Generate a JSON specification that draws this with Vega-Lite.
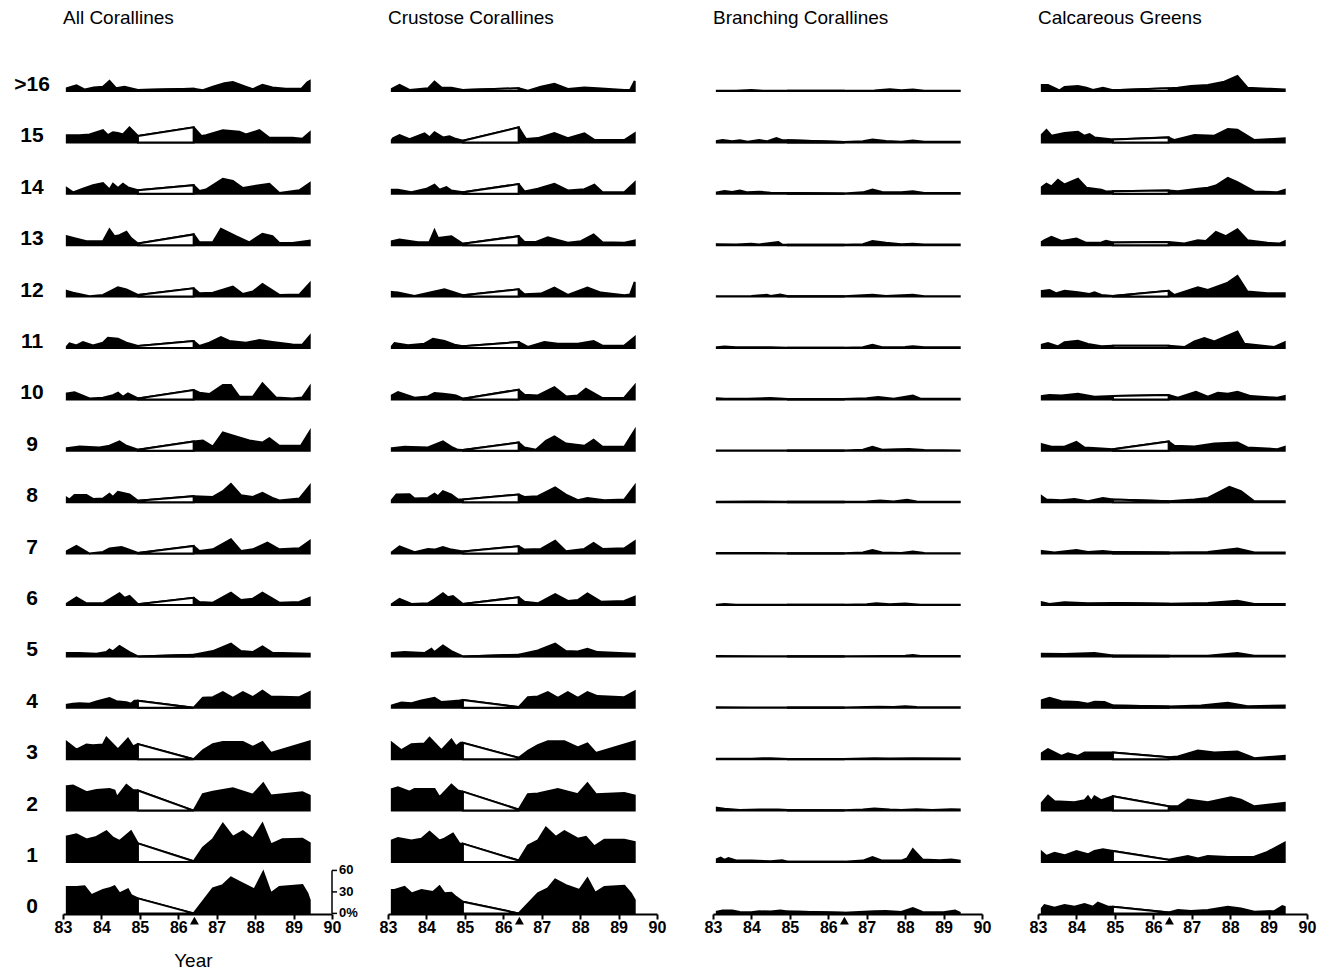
{
  "$schema": "https://vega.github.io/schema/vega-lite/v6.json",
  "background": "white",
  "padding": {"left": 14, "top": 9, "right": 2, "bottom": 2},
  "config": {
    "view": {"stroke": null},
    "font": "Liberation Sans",
    "axisX": {"values": [83, 84, 85, 86, 87, 88, 89, 90], "format": "d", "labelFontSize": 16, "labelFontWeight": "bold", "labelColor": "black", "labelPadding": 0, "tickSize": 5, "tickWidth": 2, "tickColor": "black", "domainWidth": 2, "domainColor": "black", "grid": false, "labelFlush": false, "labelOverlap": false, "title": null}
  },
  "title": {"text": "Year", "orient": "bottom", "anchor": "start", "frame": "bounds", "dx": 160, "offset": 17, "fontSize": 19, "fontWeight": "normal", "color": "black", "font": "Liberation Sans"},
  "data": {"values": [
    {"g":"A","s":">16","k":"lab"},{"g":"A","s":"15","k":"lab"},{"g":"A","s":"14","k":"lab"},{"g":"A","s":"13","k":"lab"},{"g":"A","s":"12","k":"lab"},{"g":"A","s":"11","k":"lab"},{"g":"A","s":"10","k":"lab"},{"g":"A","s":"9","k":"lab"},{"g":"A","s":"8","k":"lab"},{"g":"A","s":"7","k":"lab"},{"g":"A","s":"6","k":"lab"},{"g":"A","s":"5","k":"lab"},{"g":"A","s":"4","k":"lab"},{"g":"A","s":"3","k":"lab"},{"g":"A","s":"2","k":"lab"},{"g":"A","s":"1","k":"lab"},{"g":"A","s":"0","k":"lab"},
    {"g":"A","s":">16","x":83.1,"y":4},{"g":"A","s":">16","x":83.35,"y":8},{"g":"A","s":">16","x":83.57,"y":2},{"g":"A","s":">16","x":83.8,"y":5},{"g":"A","s":">16","x":84.04,"y":6},{"g":"A","s":">16","x":84.21,"y":14},{"g":"A","s":">16","x":84.38,"y":4},{"g":"A","s":">16","x":84.6,"y":6},{"g":"A","s":">16","x":84.95,"y":1.5},{"g":"A","s":">16","x":86.4,"y":3},{"g":"A","s":">16","x":86.64,"y":1},{"g":"A","s":">16","x":86.9,"y":6},{"g":"A","s":">16","x":87.2,"y":11},{"g":"A","s":">16","x":87.42,"y":12.5},{"g":"A","s":">16","x":87.75,"y":6},{"g":"A","s":">16","x":87.94,"y":2.5},{"g":"A","s":">16","x":88.19,"y":8.5},{"g":"A","s":">16","x":88.45,"y":5},{"g":"A","s":">16","x":88.8,"y":3},{"g":"A","s":">16","x":89.2,"y":3},{"g":"A","s":">16","x":89.36,"y":12},{"g":"A","s":">16","x":89.42,"y":14},
    {"g":"A","s":"15","x":83.1,"y":10},{"g":"A","s":"15","x":83.43,"y":10},{"g":"A","s":"15","x":83.69,"y":11},{"g":"A","s":"15","x":84.04,"y":17},{"g":"A","s":"15","x":84.17,"y":10},{"g":"A","s":"15","x":84.3,"y":14},{"g":"A","s":"15","x":84.43,"y":13},{"g":"A","s":"15","x":84.56,"y":11},{"g":"A","s":"15","x":84.73,"y":21},{"g":"A","s":"15","x":84.95,"y":9},{"g":"A","s":"15","x":86.4,"y":21},{"g":"A","s":"15","x":86.6,"y":9},{"g":"A","s":"15","x":86.72,"y":10},{"g":"A","s":"15","x":87.16,"y":17},{"g":"A","s":"15","x":87.59,"y":15},{"g":"A","s":"15","x":87.76,"y":11},{"g":"A","s":"15","x":88.11,"y":17},{"g":"A","s":"15","x":88.37,"y":6.5},{"g":"A","s":"15","x":88.97,"y":6.5},{"g":"A","s":"15","x":89.23,"y":5},{"g":"A","s":"15","x":89.42,"y":14},
    {"g":"A","s":"14","x":83.1,"y":8},{"g":"A","s":"14","x":83.26,"y":2},{"g":"A","s":"14","x":83.52,"y":7},{"g":"A","s":"14","x":83.78,"y":12},{"g":"A","s":"14","x":84.04,"y":15},{"g":"A","s":"14","x":84.21,"y":6},{"g":"A","s":"14","x":84.3,"y":14},{"g":"A","s":"14","x":84.43,"y":8},{"g":"A","s":"14","x":84.56,"y":14},{"g":"A","s":"14","x":84.69,"y":9},{"g":"A","s":"14","x":84.95,"y":5},{"g":"A","s":"14","x":86.4,"y":12},{"g":"A","s":"14","x":86.55,"y":4},{"g":"A","s":"14","x":86.72,"y":6},{"g":"A","s":"14","x":87.16,"y":21},{"g":"A","s":"14","x":87.42,"y":18},{"g":"A","s":"14","x":87.68,"y":8},{"g":"A","s":"14","x":88.11,"y":12},{"g":"A","s":"14","x":88.37,"y":14},{"g":"A","s":"14","x":88.63,"y":1},{"g":"A","s":"14","x":89.15,"y":5},{"g":"A","s":"14","x":89.42,"y":15},
    {"g":"A","s":"13","x":83.1,"y":12.5},{"g":"A","s":"13","x":83.35,"y":9},{"g":"A","s":"13","x":83.61,"y":5.5},{"g":"A","s":"13","x":84.04,"y":5.5},{"g":"A","s":"13","x":84.21,"y":22},{"g":"A","s":"13","x":84.34,"y":12.5},{"g":"A","s":"13","x":84.47,"y":14},{"g":"A","s":"13","x":84.65,"y":18.6},{"g":"A","s":"13","x":84.77,"y":10},{"g":"A","s":"13","x":84.95,"y":2.3},{"g":"A","s":"13","x":86.4,"y":15},{"g":"A","s":"13","x":86.55,"y":4},{"g":"A","s":"13","x":86.9,"y":4},{"g":"A","s":"13","x":87.11,"y":23},{"g":"A","s":"13","x":87.5,"y":12.5},{"g":"A","s":"13","x":87.85,"y":4},{"g":"A","s":"13","x":88.19,"y":16},{"g":"A","s":"13","x":88.45,"y":12.5},{"g":"A","s":"13","x":88.63,"y":3},{"g":"A","s":"13","x":88.97,"y":3},{"g":"A","s":"13","x":89.42,"y":6.5},
    {"g":"A","s":"12","x":83.1,"y":8},{"g":"A","s":"12","x":83.26,"y":5.5},{"g":"A","s":"12","x":83.69,"y":0.5},{"g":"A","s":"12","x":84.04,"y":2.3},{"g":"A","s":"12","x":84.21,"y":7},{"g":"A","s":"12","x":84.43,"y":13},{"g":"A","s":"12","x":84.65,"y":10},{"g":"A","s":"12","x":84.95,"y":2.3},{"g":"A","s":"12","x":86.4,"y":11.6},{"g":"A","s":"12","x":86.55,"y":4.6},{"g":"A","s":"12","x":86.9,"y":5.5},{"g":"A","s":"12","x":87.42,"y":14},{"g":"A","s":"12","x":87.68,"y":3.7},{"g":"A","s":"12","x":87.94,"y":7},{"g":"A","s":"12","x":88.19,"y":17.7},{"g":"A","s":"12","x":88.63,"y":2.3},{"g":"A","s":"12","x":89.15,"y":2.8},{"g":"A","s":"12","x":89.42,"y":18.6},
    {"g":"A","s":"11","x":83.1,"y":2},{"g":"A","s":"11","x":83.17,"y":6.5},{"g":"A","s":"11","x":83.35,"y":3.7},{"g":"A","s":"11","x":83.52,"y":8.4},{"g":"A","s":"11","x":83.78,"y":3.7},{"g":"A","s":"11","x":84.04,"y":7.4},{"g":"A","s":"11","x":84.17,"y":14.4},{"g":"A","s":"11","x":84.43,"y":13},{"g":"A","s":"11","x":84.65,"y":7.4},{"g":"A","s":"11","x":84.95,"y":2.8},{"g":"A","s":"11","x":86.4,"y":9.8},{"g":"A","s":"11","x":86.55,"y":2.8},{"g":"A","s":"11","x":86.81,"y":7.4},{"g":"A","s":"11","x":87.11,"y":15.3},{"g":"A","s":"11","x":87.33,"y":9.8},{"g":"A","s":"11","x":87.76,"y":7.4},{"g":"A","s":"11","x":88.11,"y":11},{"g":"A","s":"11","x":88.45,"y":8.4},{"g":"A","s":"11","x":88.97,"y":5},{"g":"A","s":"11","x":89.23,"y":4.6},{"g":"A","s":"11","x":89.42,"y":16.7},
    {"g":"A","s":"10","x":83.1,"y":8.4},{"g":"A","s":"10","x":83.3,"y":9.8},{"g":"A","s":"10","x":83.69,"y":1.4},{"g":"A","s":"10","x":84.04,"y":2.3},{"g":"A","s":"10","x":84.3,"y":6},{"g":"A","s":"10","x":84.43,"y":9.3},{"g":"A","s":"10","x":84.56,"y":3.7},{"g":"A","s":"10","x":84.69,"y":8.4},{"g":"A","s":"10","x":84.95,"y":1.4},{"g":"A","s":"10","x":86.4,"y":13},{"g":"A","s":"10","x":86.55,"y":9.3},{"g":"A","s":"10","x":86.81,"y":7.4},{"g":"A","s":"10","x":87.16,"y":20},{"g":"A","s":"10","x":87.37,"y":20},{"g":"A","s":"10","x":87.59,"y":3.7},{"g":"A","s":"10","x":87.94,"y":3.7},{"g":"A","s":"10","x":88.19,"y":22.3},{"g":"A","s":"10","x":88.54,"y":2.8},{"g":"A","s":"10","x":88.97,"y":1.4},{"g":"A","s":"10","x":89.23,"y":2.8},{"g":"A","s":"10","x":89.42,"y":17.7},
    {"g":"A","s":"9","x":83.1,"y":3.7},{"g":"A","s":"9","x":83.43,"y":6},{"g":"A","s":"9","x":83.95,"y":4.6},{"g":"A","s":"9","x":84.21,"y":7},{"g":"A","s":"9","x":84.47,"y":13},{"g":"A","s":"9","x":84.65,"y":7},{"g":"A","s":"9","x":84.95,"y":1.4},{"g":"A","s":"9","x":86.4,"y":13},{"g":"A","s":"9","x":86.64,"y":14.4},{"g":"A","s":"9","x":86.9,"y":6},{"g":"A","s":"9","x":87.16,"y":25.6},{"g":"A","s":"9","x":87.5,"y":20},{"g":"A","s":"9","x":87.85,"y":14.4},{"g":"A","s":"9","x":88.19,"y":11.6},{"g":"A","s":"9","x":88.37,"y":17.7},{"g":"A","s":"9","x":88.63,"y":7},{"g":"A","s":"9","x":89.19,"y":7},{"g":"A","s":"9","x":89.42,"y":27},
    {"g":"A","s":"8","x":83.1,"y":6},{"g":"A","s":"8","x":83.17,"y":3.7},{"g":"A","s":"8","x":83.3,"y":10},{"g":"A","s":"8","x":83.61,"y":10},{"g":"A","s":"8","x":83.78,"y":4.6},{"g":"A","s":"8","x":84.04,"y":5},{"g":"A","s":"8","x":84.21,"y":11.6},{"g":"A","s":"8","x":84.3,"y":7.4},{"g":"A","s":"8","x":84.43,"y":14.4},{"g":"A","s":"8","x":84.73,"y":10.7},{"g":"A","s":"8","x":84.95,"y":1.9},{"g":"A","s":"8","x":86.4,"y":8.4},{"g":"A","s":"8","x":86.9,"y":7.4},{"g":"A","s":"8","x":87.16,"y":15.3},{"g":"A","s":"8","x":87.37,"y":25.6},{"g":"A","s":"8","x":87.63,"y":9.8},{"g":"A","s":"8","x":87.94,"y":7.4},{"g":"A","s":"8","x":88.19,"y":13},{"g":"A","s":"8","x":88.45,"y":6},{"g":"A","s":"8","x":88.63,"y":2.3},{"g":"A","s":"8","x":89.15,"y":5},{"g":"A","s":"8","x":89.42,"y":23},
    {"g":"A","s":"7","x":83.1,"y":3.3},{"g":"A","s":"7","x":83.35,"y":10.7},{"g":"A","s":"7","x":83.69,"y":0},{"g":"A","s":"7","x":84.04,"y":2.3},{"g":"A","s":"7","x":84.21,"y":7},{"g":"A","s":"7","x":84.52,"y":9.3},{"g":"A","s":"7","x":84.65,"y":7},{"g":"A","s":"7","x":84.95,"y":1},{"g":"A","s":"7","x":86.4,"y":10.7},{"g":"A","s":"7","x":86.55,"y":3.7},{"g":"A","s":"7","x":86.9,"y":6},{"g":"A","s":"7","x":87.37,"y":20},{"g":"A","s":"7","x":87.63,"y":3.7},{"g":"A","s":"7","x":87.94,"y":6},{"g":"A","s":"7","x":88.32,"y":15.3},{"g":"A","s":"7","x":88.63,"y":6},{"g":"A","s":"7","x":89.15,"y":7.4},{"g":"A","s":"7","x":89.42,"y":17.7},
    {"g":"A","s":"6","x":83.1,"y":2},{"g":"A","s":"6","x":83.35,"y":10.7},{"g":"A","s":"6","x":83.61,"y":2.3},{"g":"A","s":"6","x":84.04,"y":2.3},{"g":"A","s":"6","x":84.21,"y":8},{"g":"A","s":"6","x":84.47,"y":16.3},{"g":"A","s":"6","x":84.6,"y":10},{"g":"A","s":"6","x":84.73,"y":12.6},{"g":"A","s":"6","x":84.95,"y":1},{"g":"A","s":"6","x":86.4,"y":10},{"g":"A","s":"6","x":86.55,"y":4.2},{"g":"A","s":"6","x":86.9,"y":3.3},{"g":"A","s":"6","x":87.37,"y":17.2},{"g":"A","s":"6","x":87.63,"y":7},{"g":"A","s":"6","x":87.94,"y":8.8},{"g":"A","s":"6","x":88.19,"y":17.2},{"g":"A","s":"6","x":88.63,"y":3.3},{"g":"A","s":"6","x":89.15,"y":4.2},{"g":"A","s":"6","x":89.42,"y":10},
    {"g":"A","s":"5","x":83.1,"y":4.6},{"g":"A","s":"5","x":83.43,"y":4.6},{"g":"A","s":"5","x":83.87,"y":3.7},{"g":"A","s":"5","x":84.13,"y":6},{"g":"A","s":"5","x":84.21,"y":9.8},{"g":"A","s":"5","x":84.3,"y":7},{"g":"A","s":"5","x":84.47,"y":14.4},{"g":"A","s":"5","x":84.73,"y":6},{"g":"A","s":"5","x":84.95,"y":0},{"g":"A","s":"5","x":86.4,"y":2.3},{"g":"A","s":"5","x":86.9,"y":7.4},{"g":"A","s":"5","x":87.37,"y":17.7},{"g":"A","s":"5","x":87.63,"y":7.4},{"g":"A","s":"5","x":87.94,"y":6},{"g":"A","s":"5","x":88.19,"y":14},{"g":"A","s":"5","x":88.45,"y":5},{"g":"A","s":"5","x":89.42,"y":3.7},
    {"g":"A","s":"4","x":83.1,"y":4.2},{"g":"A","s":"4","x":83.26,"y":5.6},{"g":"A","s":"4","x":83.43,"y":6.5},{"g":"A","s":"4","x":83.69,"y":5.6},{"g":"A","s":"4","x":83.87,"y":8.8},{"g":"A","s":"4","x":84.21,"y":13.5},{"g":"A","s":"4","x":84.39,"y":9.3},{"g":"A","s":"4","x":84.65,"y":7.9},{"g":"A","s":"4","x":84.77,"y":5.6},{"g":"A","s":"4","x":84.86,"y":10},{"g":"A","s":"4","x":84.95,"y":10},{"g":"A","s":"4","x":86.4,"y":0},{"g":"A","s":"4","x":86.64,"y":14},{"g":"A","s":"4","x":86.9,"y":14.9},{"g":"A","s":"4","x":87.16,"y":21.9},{"g":"A","s":"4","x":87.42,"y":14},{"g":"A","s":"4","x":87.68,"y":21.9},{"g":"A","s":"4","x":87.94,"y":14.9},{"g":"A","s":"4","x":88.19,"y":24},{"g":"A","s":"4","x":88.41,"y":15.8},{"g":"A","s":"4","x":89.15,"y":14.9},{"g":"A","s":"4","x":89.42,"y":21.9},
    {"g":"A","s":"3","x":83.1,"y":24},{"g":"A","s":"3","x":83.35,"y":13.5},{"g":"A","s":"3","x":83.61,"y":20.5},{"g":"A","s":"3","x":83.78,"y":19.5},{"g":"A","s":"3","x":84.04,"y":20.5},{"g":"A","s":"3","x":84.13,"y":30},{"g":"A","s":"3","x":84.43,"y":13.5},{"g":"A","s":"3","x":84.69,"y":28.8},{"g":"A","s":"3","x":84.82,"y":18},{"g":"A","s":"3","x":84.95,"y":21},{"g":"A","s":"3","x":86.4,"y":0},{"g":"A","s":"3","x":86.64,"y":12.6},{"g":"A","s":"3","x":86.9,"y":21},{"g":"A","s":"3","x":87.16,"y":24},{"g":"A","s":"3","x":87.68,"y":24},{"g":"A","s":"3","x":87.94,"y":17.2},{"g":"A","s":"3","x":88.19,"y":24},{"g":"A","s":"3","x":88.41,"y":8.8},{"g":"A","s":"3","x":89.42,"y":25},
    {"g":"A","s":"2","x":83.1,"y":34},{"g":"A","s":"2","x":83.26,"y":35},{"g":"A","s":"2","x":83.61,"y":25.6},{"g":"A","s":"2","x":83.87,"y":28.8},{"g":"A","s":"2","x":84.21,"y":30},{"g":"A","s":"2","x":84.34,"y":28},{"g":"A","s":"2","x":84.4,"y":18.6},{"g":"A","s":"2","x":84.65,"y":36},{"g":"A","s":"2","x":84.82,"y":28.8},{"g":"A","s":"2","x":84.95,"y":28},{"g":"A","s":"2","x":86.4,"y":0},{"g":"A","s":"2","x":86.64,"y":23},{"g":"A","s":"2","x":86.9,"y":26.5},{"g":"A","s":"2","x":87.42,"y":31},{"g":"A","s":"2","x":87.94,"y":22.3},{"g":"A","s":"2","x":88.21,"y":38},{"g":"A","s":"2","x":88.41,"y":21},{"g":"A","s":"2","x":89.23,"y":25.6},{"g":"A","s":"2","x":89.42,"y":21},
    {"g":"A","s":"1","x":83.1,"y":35.8},{"g":"A","s":"1","x":83.35,"y":38.6},{"g":"A","s":"1","x":83.61,"y":31.6},{"g":"A","s":"1","x":83.87,"y":35},{"g":"A","s":"1","x":84.13,"y":43},{"g":"A","s":"1","x":84.3,"y":34},{"g":"A","s":"1","x":84.47,"y":29.3},{"g":"A","s":"1","x":84.77,"y":42.8},{"g":"A","s":"1","x":84.95,"y":26},{"g":"A","s":"1","x":86.4,"y":1},{"g":"A","s":"1","x":86.64,"y":20},{"g":"A","s":"1","x":86.9,"y":31.6},{"g":"A","s":"1","x":87.16,"y":53.5},{"g":"A","s":"1","x":87.42,"y":35},{"g":"A","s":"1","x":87.68,"y":43},{"g":"A","s":"1","x":87.94,"y":32.6},{"g":"A","s":"1","x":88.19,"y":53.5},{"g":"A","s":"1","x":88.41,"y":24.6},{"g":"A","s":"1","x":88.71,"y":31.6},{"g":"A","s":"1","x":89.23,"y":32.6},{"g":"A","s":"1","x":89.42,"y":26.5},
    {"g":"A","s":"0","x":83.1,"y":37},{"g":"A","s":"0","x":83.35,"y":37},{"g":"A","s":"0","x":83.56,"y":38},{"g":"A","s":"0","x":83.74,"y":25.6},{"g":"A","s":"0","x":84.04,"y":32.6},{"g":"A","s":"0","x":84.21,"y":35},{"g":"A","s":"0","x":84.34,"y":38},{"g":"A","s":"0","x":84.47,"y":28},{"g":"A","s":"0","x":84.69,"y":33.5},{"g":"A","s":"0","x":84.77,"y":25.6},{"g":"A","s":"0","x":84.95,"y":21},{"g":"A","s":"0","x":86.4,"y":0},{"g":"A","s":"0","x":86.9,"y":35},{"g":"A","s":"0","x":87.16,"y":39.5},{"g":"A","s":"0","x":87.37,"y":50},{"g":"A","s":"0","x":87.63,"y":42.8},{"g":"A","s":"0","x":87.98,"y":33.5},{"g":"A","s":"0","x":88.21,"y":57.7},{"g":"A","s":"0","x":88.41,"y":28},{"g":"A","s":"0","x":88.63,"y":37},{"g":"A","s":"0","x":89.23,"y":39.5},{"g":"A","s":"0","x":89.36,"y":28},{"g":"A","s":"0","x":89.42,"y":18.6},
    {"g":"A","s":"0","x":86.42,"k":"tri"},
    {"g":"A","s":"0","k":"ax","y":0,"lab":"0%"},{"g":"A","s":"0","k":"ax","y":30,"lab":"30"},{"g":"A","s":"0","k":"ax","y":60,"lab":"60"},

    {"g":"C","s":">16","x":83.1,"y":2.8},{"g":"C","s":">16","x":83.3,"y":8.4},{"g":"C","s":">16","x":83.56,"y":1.4},{"g":"C","s":">16","x":84.04,"y":3.7},{"g":"C","s":">16","x":84.21,"y":13},{"g":"C","s":">16","x":84.39,"y":5},{"g":"C","s":">16","x":84.65,"y":4.6},{"g":"C","s":">16","x":84.95,"y":1.4},{"g":"C","s":">16","x":86.4,"y":3.7},{"g":"C","s":">16","x":86.64,"y":0.5},{"g":"C","s":">16","x":86.98,"y":6},{"g":"C","s":">16","x":87.33,"y":10.2},{"g":"C","s":">16","x":87.68,"y":2.8},{"g":"C","s":">16","x":88.11,"y":5},{"g":"C","s":">16","x":88.45,"y":3.7},{"g":"C","s":">16","x":89.15,"y":1.4},{"g":"C","s":">16","x":89.3,"y":1.5},{"g":"C","s":">16","x":89.42,"y":14},
    {"g":"C","s":"15","x":83.1,"y":3.3},{"g":"C","s":"15","x":83.13,"y":5.6},{"g":"C","s":"15","x":83.3,"y":10.2},{"g":"C","s":"15","x":83.56,"y":4.6},{"g":"C","s":"15","x":83.95,"y":12.6},{"g":"C","s":"15","x":84.08,"y":7},{"g":"C","s":"15","x":84.21,"y":14},{"g":"C","s":"15","x":84.43,"y":7},{"g":"C","s":"15","x":84.6,"y":8.4},{"g":"C","s":"15","x":84.73,"y":5.6},{"g":"C","s":"15","x":84.95,"y":2.3},{"g":"C","s":"15","x":86.4,"y":21},{"g":"C","s":"15","x":86.59,"y":4.6},{"g":"C","s":"15","x":86.9,"y":6},{"g":"C","s":"15","x":87.33,"y":13},{"g":"C","s":"15","x":87.68,"y":6},{"g":"C","s":"15","x":88.11,"y":12.6},{"g":"C","s":"15","x":88.37,"y":3.7},{"g":"C","s":"15","x":89.15,"y":3.3},{"g":"C","s":"15","x":89.42,"y":12.6},
    {"g":"C","s":"14","x":83.1,"y":5.6},{"g":"C","s":"14","x":83.26,"y":5.6},{"g":"C","s":"14","x":83.61,"y":2.3},{"g":"C","s":"14","x":84.0,"y":7},{"g":"C","s":"14","x":84.21,"y":12.6},{"g":"C","s":"14","x":84.34,"y":5.6},{"g":"C","s":"14","x":84.52,"y":9.3},{"g":"C","s":"14","x":84.65,"y":4.6},{"g":"C","s":"14","x":84.95,"y":2.3},{"g":"C","s":"14","x":86.4,"y":13.5},{"g":"C","s":"14","x":86.55,"y":3.3},{"g":"C","s":"14","x":86.9,"y":7},{"g":"C","s":"14","x":87.33,"y":14},{"g":"C","s":"14","x":87.68,"y":4.6},{"g":"C","s":"14","x":88.11,"y":6.5},{"g":"C","s":"14","x":88.37,"y":12.6},{"g":"C","s":"14","x":88.58,"y":2.3},{"g":"C","s":"14","x":89.15,"y":2.3},{"g":"C","s":"14","x":89.42,"y":15.8},
    {"g":"C","s":"13","x":83.1,"y":5.6},{"g":"C","s":"13","x":83.3,"y":8},{"g":"C","s":"13","x":83.78,"y":4.2},{"g":"C","s":"13","x":84.08,"y":4.6},{"g":"C","s":"13","x":84.21,"y":21},{"g":"C","s":"13","x":84.3,"y":10.2},{"g":"C","s":"13","x":84.65,"y":12.6},{"g":"C","s":"13","x":84.95,"y":1.9},{"g":"C","s":"13","x":86.4,"y":12.6},{"g":"C","s":"13","x":86.55,"y":4.6},{"g":"C","s":"13","x":86.85,"y":4.6},{"g":"C","s":"13","x":87.16,"y":11},{"g":"C","s":"13","x":87.68,"y":3.3},{"g":"C","s":"13","x":88.02,"y":5.6},{"g":"C","s":"13","x":88.35,"y":15},{"g":"C","s":"13","x":88.58,"y":4.2},{"g":"C","s":"13","x":89.15,"y":3.3},{"g":"C","s":"13","x":89.42,"y":6.5},
    {"g":"C","s":"12","x":83.1,"y":6.5},{"g":"C","s":"12","x":83.26,"y":5.6},{"g":"C","s":"12","x":83.69,"y":1},{"g":"C","s":"12","x":84.21,"y":7},{"g":"C","s":"12","x":84.47,"y":10.2},{"g":"C","s":"12","x":84.69,"y":6.5},{"g":"C","s":"12","x":84.95,"y":1.9},{"g":"C","s":"12","x":86.4,"y":10.2},{"g":"C","s":"12","x":86.55,"y":3.3},{"g":"C","s":"12","x":86.98,"y":4.2},{"g":"C","s":"12","x":87.33,"y":12.6},{"g":"C","s":"12","x":87.68,"y":2.3},{"g":"C","s":"12","x":88.19,"y":12.6},{"g":"C","s":"12","x":88.54,"y":5.6},{"g":"C","s":"12","x":89.15,"y":1.9},{"g":"C","s":"12","x":89.3,"y":3},{"g":"C","s":"12","x":89.42,"y":20.5},
    {"g":"C","s":"11","x":83.1,"y":2.3},{"g":"C","s":"11","x":83.17,"y":7},{"g":"C","s":"11","x":83.52,"y":3.7},{"g":"C","s":"11","x":83.95,"y":6},{"g":"C","s":"11","x":84.17,"y":13},{"g":"C","s":"11","x":84.47,"y":9.8},{"g":"C","s":"11","x":84.73,"y":4.6},{"g":"C","s":"11","x":84.95,"y":2.3},{"g":"C","s":"11","x":86.4,"y":8.4},{"g":"C","s":"11","x":86.64,"y":1.4},{"g":"C","s":"11","x":87.07,"y":8.4},{"g":"C","s":"11","x":87.42,"y":6},{"g":"C","s":"11","x":87.94,"y":6},{"g":"C","s":"11","x":88.35,"y":9.8},{"g":"C","s":"11","x":88.58,"y":3.3},{"g":"C","s":"11","x":89.15,"y":3.3},{"g":"C","s":"11","x":89.42,"y":15.3},
    {"g":"C","s":"10","x":83.1,"y":5.6},{"g":"C","s":"10","x":83.26,"y":10.2},{"g":"C","s":"10","x":83.69,"y":2.3},{"g":"C","s":"10","x":84.04,"y":4.2},{"g":"C","s":"10","x":84.21,"y":8.8},{"g":"C","s":"10","x":84.43,"y":8},{"g":"C","s":"10","x":84.65,"y":6.5},{"g":"C","s":"10","x":84.77,"y":5.6},{"g":"C","s":"10","x":84.95,"y":1},{"g":"C","s":"10","x":86.4,"y":13.5},{"g":"C","s":"10","x":86.55,"y":6.5},{"g":"C","s":"10","x":86.9,"y":5.6},{"g":"C","s":"10","x":87.33,"y":17.2},{"g":"C","s":"10","x":87.63,"y":4.2},{"g":"C","s":"10","x":87.94,"y":5.6},{"g":"C","s":"10","x":88.15,"y":15},{"g":"C","s":"10","x":88.58,"y":1.9},{"g":"C","s":"10","x":89.15,"y":2.3},{"g":"C","s":"10","x":89.42,"y":19.5},
    {"g":"C","s":"9","x":83.1,"y":3.7},{"g":"C","s":"9","x":83.43,"y":5.6},{"g":"C","s":"9","x":84.04,"y":4.6},{"g":"C","s":"9","x":84.43,"y":13},{"g":"C","s":"9","x":84.65,"y":5.6},{"g":"C","s":"9","x":84.82,"y":1.4},{"g":"C","s":"9","x":84.95,"y":1},{"g":"C","s":"9","x":86.4,"y":11.6},{"g":"C","s":"9","x":86.55,"y":4.6},{"g":"C","s":"9","x":86.85,"y":1.4},{"g":"C","s":"9","x":87.11,"y":14},{"g":"C","s":"9","x":87.33,"y":20},{"g":"C","s":"9","x":87.63,"y":10.2},{"g":"C","s":"9","x":88.11,"y":7},{"g":"C","s":"9","x":88.35,"y":15.3},{"g":"C","s":"9","x":88.58,"y":5.6},{"g":"C","s":"9","x":89.15,"y":5.6},{"g":"C","s":"9","x":89.42,"y":28.8},
    {"g":"C","s":"8","x":83.1,"y":2.8},{"g":"C","s":"8","x":83.22,"y":10.7},{"g":"C","s":"8","x":83.56,"y":11},{"g":"C","s":"8","x":83.69,"y":5},{"g":"C","s":"8","x":84.04,"y":6},{"g":"C","s":"8","x":84.21,"y":12},{"g":"C","s":"8","x":84.3,"y":8.4},{"g":"C","s":"8","x":84.43,"y":15.3},{"g":"C","s":"8","x":84.65,"y":10.7},{"g":"C","s":"8","x":84.82,"y":3.7},{"g":"C","s":"8","x":84.95,"y":3.7},{"g":"C","s":"8","x":86.4,"y":10.7},{"g":"C","s":"8","x":86.55,"y":7.4},{"g":"C","s":"8","x":86.9,"y":8.4},{"g":"C","s":"8","x":87.35,"y":20.5},{"g":"C","s":"8","x":87.63,"y":10.7},{"g":"C","s":"8","x":87.94,"y":2.8},{"g":"C","s":"8","x":88.19,"y":6},{"g":"C","s":"8","x":88.63,"y":2.8},{"g":"C","s":"8","x":89.15,"y":3.7},{"g":"C","s":"8","x":89.42,"y":23},
    {"g":"C","s":"7","x":83.1,"y":1.9},{"g":"C","s":"7","x":83.3,"y":10.2},{"g":"C","s":"7","x":83.69,"y":1.9},{"g":"C","s":"7","x":84.04,"y":6.5},{"g":"C","s":"7","x":84.21,"y":5.6},{"g":"C","s":"7","x":84.43,"y":9.3},{"g":"C","s":"7","x":84.65,"y":5.6},{"g":"C","s":"7","x":84.95,"y":2.8},{"g":"C","s":"7","x":86.4,"y":10.2},{"g":"C","s":"7","x":86.55,"y":5.6},{"g":"C","s":"7","x":86.98,"y":6.5},{"g":"C","s":"7","x":87.35,"y":18},{"g":"C","s":"7","x":87.63,"y":3.3},{"g":"C","s":"7","x":88.11,"y":6.5},{"g":"C","s":"7","x":88.35,"y":14.9},{"g":"C","s":"7","x":88.58,"y":6.5},{"g":"C","s":"7","x":89.15,"y":7.4},{"g":"C","s":"7","x":89.42,"y":17.2},
    {"g":"C","s":"6","x":83.1,"y":1.4},{"g":"C","s":"6","x":83.3,"y":8.4},{"g":"C","s":"6","x":83.61,"y":1.4},{"g":"C","s":"6","x":84.04,"y":2.3},{"g":"C","s":"6","x":84.21,"y":8},{"g":"C","s":"6","x":84.43,"y":16.3},{"g":"C","s":"6","x":84.56,"y":10.7},{"g":"C","s":"6","x":84.69,"y":12.6},{"g":"C","s":"6","x":84.95,"y":1.4},{"g":"C","s":"6","x":86.4,"y":10.7},{"g":"C","s":"6","x":86.55,"y":4.6},{"g":"C","s":"6","x":86.9,"y":2.3},{"g":"C","s":"6","x":87.35,"y":15.3},{"g":"C","s":"6","x":87.68,"y":5.6},{"g":"C","s":"6","x":87.94,"y":7},{"g":"C","s":"6","x":88.19,"y":16.3},{"g":"C","s":"6","x":88.54,"y":4.6},{"g":"C","s":"6","x":89.15,"y":5.6},{"g":"C","s":"6","x":89.42,"y":11.6},
    {"g":"C","s":"5","x":83.1,"y":4.6},{"g":"C","s":"5","x":83.43,"y":6},{"g":"C","s":"5","x":83.95,"y":4.6},{"g":"C","s":"5","x":84.13,"y":10.7},{"g":"C","s":"5","x":84.21,"y":6},{"g":"C","s":"5","x":84.43,"y":15.3},{"g":"C","s":"5","x":84.65,"y":7.4},{"g":"C","s":"5","x":84.95,"y":0},{"g":"C","s":"5","x":86.4,"y":2.3},{"g":"C","s":"5","x":86.9,"y":8.4},{"g":"C","s":"5","x":87.35,"y":17.7},{"g":"C","s":"5","x":87.63,"y":7.4},{"g":"C","s":"5","x":87.94,"y":7},{"g":"C","s":"5","x":88.19,"y":10.7},{"g":"C","s":"5","x":88.45,"y":6},{"g":"C","s":"5","x":89.42,"y":3.7},
    {"g":"C","s":"4","x":83.1,"y":3.3},{"g":"C","s":"4","x":83.35,"y":7.4},{"g":"C","s":"4","x":83.61,"y":6.5},{"g":"C","s":"4","x":83.87,"y":10.2},{"g":"C","s":"4","x":84.21,"y":14},{"g":"C","s":"4","x":84.39,"y":8},{"g":"C","s":"4","x":84.65,"y":9.3},{"g":"C","s":"4","x":84.86,"y":10.2},{"g":"C","s":"4","x":84.95,"y":11},{"g":"C","s":"4","x":86.4,"y":1},{"g":"C","s":"4","x":86.64,"y":14.9},{"g":"C","s":"4","x":86.9,"y":15.8},{"g":"C","s":"4","x":87.16,"y":21.9},{"g":"C","s":"4","x":87.42,"y":14},{"g":"C","s":"4","x":87.68,"y":21.9},{"g":"C","s":"4","x":87.94,"y":14},{"g":"C","s":"4","x":88.19,"y":21.9},{"g":"C","s":"4","x":88.45,"y":16.3},{"g":"C","s":"4","x":89.15,"y":14.9},{"g":"C","s":"4","x":89.42,"y":22.8},
    {"g":"C","s":"3","x":83.1,"y":22.8},{"g":"C","s":"3","x":83.35,"y":12.6},{"g":"C","s":"3","x":83.61,"y":21},{"g":"C","s":"3","x":83.95,"y":21.9},{"g":"C","s":"3","x":84.08,"y":30},{"g":"C","s":"3","x":84.39,"y":12.6},{"g":"C","s":"3","x":84.65,"y":27.4},{"g":"C","s":"3","x":84.77,"y":18},{"g":"C","s":"3","x":84.89,"y":22.8},{"g":"C","s":"3","x":84.95,"y":22.8},{"g":"C","s":"3","x":86.4,"y":2},{"g":"C","s":"3","x":86.64,"y":11.6},{"g":"C","s":"3","x":86.9,"y":19.5},{"g":"C","s":"3","x":87.16,"y":25},{"g":"C","s":"3","x":87.59,"y":25},{"g":"C","s":"3","x":87.94,"y":16.3},{"g":"C","s":"3","x":88.19,"y":21.9},{"g":"C","s":"3","x":88.41,"y":8.8},{"g":"C","s":"3","x":89.42,"y":25},
    {"g":"C","s":"2","x":83.1,"y":30},{"g":"C","s":"2","x":83.26,"y":32.6},{"g":"C","s":"2","x":83.56,"y":26.5},{"g":"C","s":"2","x":83.69,"y":30},{"g":"C","s":"2","x":84.21,"y":30},{"g":"C","s":"2","x":84.34,"y":18.6},{"g":"C","s":"2","x":84.65,"y":36.3},{"g":"C","s":"2","x":84.82,"y":28},{"g":"C","s":"2","x":84.95,"y":26.5},{"g":"C","s":"2","x":86.4,"y":1.4},{"g":"C","s":"2","x":86.64,"y":23},{"g":"C","s":"2","x":86.9,"y":24},{"g":"C","s":"2","x":87.42,"y":30},{"g":"C","s":"2","x":87.94,"y":23},{"g":"C","s":"2","x":88.19,"y":38},{"g":"C","s":"2","x":88.41,"y":23},{"g":"C","s":"2","x":89.15,"y":24.6},{"g":"C","s":"2","x":89.42,"y":21},
    {"g":"C","s":"1","x":83.1,"y":30},{"g":"C","s":"1","x":83.26,"y":33.5},{"g":"C","s":"1","x":83.61,"y":30},{"g":"C","s":"1","x":83.87,"y":32.6},{"g":"C","s":"1","x":84.08,"y":42},{"g":"C","s":"1","x":84.34,"y":30},{"g":"C","s":"1","x":84.47,"y":32.6},{"g":"C","s":"1","x":84.69,"y":39.5},{"g":"C","s":"1","x":84.86,"y":25.6},{"g":"C","s":"1","x":84.95,"y":25.6},{"g":"C","s":"1","x":86.4,"y":2},{"g":"C","s":"1","x":86.64,"y":23},{"g":"C","s":"1","x":86.9,"y":30},{"g":"C","s":"1","x":87.11,"y":48},{"g":"C","s":"1","x":87.37,"y":35},{"g":"C","s":"1","x":87.59,"y":43},{"g":"C","s":"1","x":87.94,"y":32.6},{"g":"C","s":"1","x":88.15,"y":35},{"g":"C","s":"1","x":88.37,"y":21.9},{"g":"C","s":"1","x":88.63,"y":31},{"g":"C","s":"1","x":89.15,"y":31},{"g":"C","s":"1","x":89.42,"y":28},
    {"g":"C","s":"0","x":83.1,"y":32.6},{"g":"C","s":"0","x":83.17,"y":32.6},{"g":"C","s":"0","x":83.43,"y":37},{"g":"C","s":"0","x":83.61,"y":28},{"g":"C","s":"0","x":83.87,"y":32.6},{"g":"C","s":"0","x":84.17,"y":30},{"g":"C","s":"0","x":84.34,"y":38},{"g":"C","s":"0","x":84.47,"y":28},{"g":"C","s":"0","x":84.65,"y":28.8},{"g":"C","s":"0","x":84.77,"y":23},{"g":"C","s":"0","x":84.95,"y":16.3},{"g":"C","s":"0","x":86.4,"y":0},{"g":"C","s":"0","x":86.9,"y":28},{"g":"C","s":"0","x":87.16,"y":35},{"g":"C","s":"0","x":87.35,"y":47.4},{"g":"C","s":"0","x":87.63,"y":39.5},{"g":"C","s":"0","x":87.98,"y":32.6},{"g":"C","s":"0","x":88.19,"y":48.8},{"g":"C","s":"0","x":88.39,"y":28.8},{"g":"C","s":"0","x":88.63,"y":37},{"g":"C","s":"0","x":89.15,"y":38.6},{"g":"C","s":"0","x":89.32,"y":28},{"g":"C","s":"0","x":89.42,"y":18.6},
    {"g":"C","s":"0","x":86.42,"k":"tri"},

    {"g":"B","s":">16","x":83.1,"y":0.5},{"g":"B","s":">16","x":83.6,"y":0.5},{"g":"B","s":">16","x":84.0,"y":1.5},{"g":"B","s":">16","x":84.3,"y":0.5},{"g":"B","s":">16","x":84.95,"y":0.3},{"g":"B","s":">16","x":86.4,"y":0.3},{"g":"B","s":">16","x":87.2,"y":0.8},{"g":"B","s":">16","x":87.6,"y":2.5},{"g":"B","s":">16","x":87.9,"y":1},{"g":"B","s":">16","x":88.2,"y":2},{"g":"B","s":">16","x":88.5,"y":0.5},{"g":"B","s":">16","x":89.42,"y":0.5},
    {"g":"B","s":"15","x":83.1,"y":2},{"g":"B","s":"15","x":83.25,"y":3.5},{"g":"B","s":"15","x":83.5,"y":1.5},{"g":"B","s":"15","x":83.7,"y":3},{"g":"B","s":"15","x":83.9,"y":1},{"g":"B","s":"15","x":84.2,"y":3.5},{"g":"B","s":"15","x":84.4,"y":1.5},{"g":"B","s":"15","x":84.65,"y":6},{"g":"B","s":"15","x":84.8,"y":3},{"g":"B","s":"15","x":84.95,"y":3},{"g":"B","s":"15","x":86.4,"y":0.5},{"g":"B","s":"15","x":86.9,"y":1.5},{"g":"B","s":"15","x":87.15,"y":4},{"g":"B","s":"15","x":87.5,"y":2},{"g":"B","s":"15","x":87.9,"y":1},{"g":"B","s":"15","x":88.2,"y":2.5},{"g":"B","s":"15","x":88.5,"y":1},{"g":"B","s":"15","x":89.42,"y":1},
    {"g":"B","s":"14","x":83.1,"y":2},{"g":"B","s":"14","x":83.3,"y":4},{"g":"B","s":"14","x":83.5,"y":2.5},{"g":"B","s":"14","x":83.7,"y":4.5},{"g":"B","s":"14","x":83.9,"y":2},{"g":"B","s":"14","x":84.2,"y":3},{"g":"B","s":"14","x":84.5,"y":1.5},{"g":"B","s":"14","x":84.95,"y":1},{"g":"B","s":"14","x":86.4,"y":0.5},{"g":"B","s":"14","x":86.9,"y":2},{"g":"B","s":"14","x":87.15,"y":6},{"g":"B","s":"14","x":87.4,"y":2.5},{"g":"B","s":"14","x":87.9,"y":2},{"g":"B","s":"14","x":88.2,"y":3.5},{"g":"B","s":"14","x":88.5,"y":1},{"g":"B","s":"14","x":89.42,"y":1},
    {"g":"B","s":"13","x":83.1,"y":1.5},{"g":"B","s":"13","x":83.6,"y":1},{"g":"B","s":"13","x":84.0,"y":2},{"g":"B","s":"13","x":84.2,"y":1},{"g":"B","s":"13","x":84.4,"y":2.5},{"g":"B","s":"13","x":84.7,"y":4.5},{"g":"B","s":"13","x":84.8,"y":1},{"g":"B","s":"13","x":84.95,"y":0.5},{"g":"B","s":"13","x":86.4,"y":0.5},{"g":"B","s":"13","x":86.9,"y":1.5},{"g":"B","s":"13","x":87.15,"y":6},{"g":"B","s":"13","x":87.5,"y":3.5},{"g":"B","s":"13","x":87.9,"y":1.5},{"g":"B","s":"13","x":88.2,"y":2},{"g":"B","s":"13","x":88.5,"y":1},{"g":"B","s":"13","x":89.42,"y":1},
    {"g":"B","s":"12","x":83.1,"y":0.5},{"g":"B","s":"12","x":84.0,"y":1},{"g":"B","s":"12","x":84.4,"y":2.5},{"g":"B","s":"12","x":84.5,"y":1},{"g":"B","s":"12","x":84.75,"y":3},{"g":"B","s":"12","x":84.95,"y":0.5},{"g":"B","s":"12","x":86.4,"y":0.5},{"g":"B","s":"12","x":87.15,"y":2.5},{"g":"B","s":"12","x":87.5,"y":1},{"g":"B","s":"12","x":88.2,"y":2.5},{"g":"B","s":"12","x":88.5,"y":0.5},{"g":"B","s":"12","x":89.42,"y":0.5},
    {"g":"B","s":"11","x":83.1,"y":1},{"g":"B","s":"11","x":83.3,"y":2},{"g":"B","s":"11","x":83.6,"y":1},{"g":"B","s":"11","x":84.5,"y":1},{"g":"B","s":"11","x":84.95,"y":0.5},{"g":"B","s":"11","x":86.4,"y":0.5},{"g":"B","s":"11","x":86.9,"y":1},{"g":"B","s":"11","x":87.15,"y":4.5},{"g":"B","s":"11","x":87.4,"y":1},{"g":"B","s":"11","x":88.0,"y":1.5},{"g":"B","s":"11","x":88.2,"y":2.5},{"g":"B","s":"11","x":88.5,"y":1},{"g":"B","s":"11","x":89.42,"y":1},
    {"g":"B","s":"10","x":83.1,"y":1.5},{"g":"B","s":"10","x":83.3,"y":1},{"g":"B","s":"10","x":83.9,"y":1},{"g":"B","s":"10","x":84.5,"y":2},{"g":"B","s":"10","x":84.95,"y":0.5},{"g":"B","s":"10","x":86.4,"y":0.5},{"g":"B","s":"10","x":87.0,"y":1.5},{"g":"B","s":"10","x":87.3,"y":3.5},{"g":"B","s":"10","x":87.7,"y":1},{"g":"B","s":"10","x":88.2,"y":5.5},{"g":"B","s":"10","x":88.4,"y":1},{"g":"B","s":"10","x":89.42,"y":1},
    {"g":"B","s":"9","x":83.1,"y":0.5},{"g":"B","s":"9","x":84.95,"y":0.5},{"g":"B","s":"9","x":86.4,"y":0.5},{"g":"B","s":"9","x":86.9,"y":1.5},{"g":"B","s":"9","x":87.15,"y":5.5},{"g":"B","s":"9","x":87.4,"y":1.5},{"g":"B","s":"9","x":87.8,"y":2},{"g":"B","s":"9","x":88.1,"y":2.5},{"g":"B","s":"9","x":88.5,"y":1},{"g":"B","s":"9","x":89.42,"y":0.5},
    {"g":"B","s":"8","x":83.1,"y":0.5},{"g":"B","s":"8","x":84.0,"y":1},{"g":"B","s":"8","x":84.95,"y":0.5},{"g":"B","s":"8","x":86.4,"y":0.5},{"g":"B","s":"8","x":87.0,"y":1},{"g":"B","s":"8","x":87.35,"y":2.5},{"g":"B","s":"8","x":87.7,"y":1},{"g":"B","s":"8","x":88.05,"y":3.5},{"g":"B","s":"8","x":88.3,"y":1},{"g":"B","s":"8","x":89.42,"y":0.5},
    {"g":"B","s":"7","x":83.1,"y":1},{"g":"B","s":"7","x":84.0,"y":1},{"g":"B","s":"7","x":84.95,"y":0.5},{"g":"B","s":"7","x":86.4,"y":0.5},{"g":"B","s":"7","x":86.9,"y":1.5},{"g":"B","s":"7","x":87.15,"y":5},{"g":"B","s":"7","x":87.4,"y":1.5},{"g":"B","s":"7","x":87.9,"y":1},{"g":"B","s":"7","x":88.2,"y":3},{"g":"B","s":"7","x":88.5,"y":1},{"g":"B","s":"7","x":89.42,"y":0.5},
    {"g":"B","s":"6","x":83.1,"y":0.5},{"g":"B","s":"6","x":83.3,"y":1.5},{"g":"B","s":"6","x":83.6,"y":0.5},{"g":"B","s":"6","x":84.95,"y":0.5},{"g":"B","s":"6","x":86.4,"y":0.5},{"g":"B","s":"6","x":87.0,"y":1},{"g":"B","s":"6","x":87.25,"y":2.5},{"g":"B","s":"6","x":87.6,"y":1},{"g":"B","s":"6","x":88.0,"y":2},{"g":"B","s":"6","x":88.4,"y":0.5},{"g":"B","s":"6","x":89.42,"y":0.5},
    {"g":"B","s":"5","x":83.1,"y":0.5},{"g":"B","s":"5","x":84.95,"y":0.3},{"g":"B","s":"5","x":86.4,"y":0.3},{"g":"B","s":"5","x":87.5,"y":0.5},{"g":"B","s":"5","x":88.0,"y":1},{"g":"B","s":"5","x":88.2,"y":2},{"g":"B","s":"5","x":88.4,"y":0.5},{"g":"B","s":"5","x":89.42,"y":0.5},
    {"g":"B","s":"4","x":83.1,"y":0.8},{"g":"B","s":"4","x":84.0,"y":0.5},{"g":"B","s":"4","x":84.95,"y":0.3},{"g":"B","s":"4","x":86.4,"y":0.3},{"g":"B","s":"4","x":87.0,"y":1},{"g":"B","s":"4","x":87.3,"y":1.5},{"g":"B","s":"4","x":87.7,"y":1},{"g":"B","s":"4","x":88.0,"y":2},{"g":"B","s":"4","x":88.3,"y":1},{"g":"B","s":"4","x":89.0,"y":0.8},{"g":"B","s":"4","x":89.42,"y":0.8},
    {"g":"B","s":"3","x":83.1,"y":0.5},{"g":"B","s":"3","x":84.0,"y":0.5},{"g":"B","s":"3","x":84.3,"y":1.5},{"g":"B","s":"3","x":84.5,"y":1.5},{"g":"B","s":"3","x":84.95,"y":0.3},{"g":"B","s":"3","x":86.4,"y":0.3},{"g":"B","s":"3","x":87.2,"y":1.5},{"g":"B","s":"3","x":87.6,"y":1},{"g":"B","s":"3","x":88.2,"y":1.5},{"g":"B","s":"3","x":89.42,"y":1},
    {"g":"B","s":"2","x":83.1,"y":4},{"g":"B","s":"2","x":83.3,"y":2.5},{"g":"B","s":"2","x":83.7,"y":1},{"g":"B","s":"2","x":84.2,"y":1.5},{"g":"B","s":"2","x":84.7,"y":1.5},{"g":"B","s":"2","x":84.95,"y":1},{"g":"B","s":"2","x":86.4,"y":0.5},{"g":"B","s":"2","x":86.9,"y":1.5},{"g":"B","s":"2","x":87.2,"y":3},{"g":"B","s":"2","x":87.6,"y":1.5},{"g":"B","s":"2","x":87.9,"y":1},{"g":"B","s":"2","x":88.3,"y":2},{"g":"B","s":"2","x":88.7,"y":1},{"g":"B","s":"2","x":89.2,"y":2},{"g":"B","s":"2","x":89.42,"y":1.5},
    {"g":"B","s":"1","x":83.1,"y":4},{"g":"B","s":"1","x":83.2,"y":6},{"g":"B","s":"1","x":83.3,"y":3},{"g":"B","s":"1","x":83.4,"y":5.5},{"g":"B","s":"1","x":83.6,"y":2},{"g":"B","s":"1","x":84.0,"y":2},{"g":"B","s":"1","x":84.5,"y":1},{"g":"B","s":"1","x":84.8,"y":2.5},{"g":"B","s":"1","x":84.95,"y":0.5},{"g":"B","s":"1","x":86.4,"y":0.5},{"g":"B","s":"1","x":86.9,"y":2},{"g":"B","s":"1","x":87.15,"y":7},{"g":"B","s":"1","x":87.4,"y":2},{"g":"B","s":"1","x":87.9,"y":2},{"g":"B","s":"1","x":88.05,"y":5},{"g":"B","s":"1","x":88.2,"y":18},{"g":"B","s":"1","x":88.45,"y":3.5},{"g":"B","s":"1","x":88.9,"y":2.5},{"g":"B","s":"1","x":89.2,"y":3.5},{"g":"B","s":"1","x":89.42,"y":2},
    {"g":"B","s":"0","x":83.1,"y":2.5},{"g":"B","s":"0","x":83.25,"y":4},{"g":"B","s":"0","x":83.5,"y":4},{"g":"B","s":"0","x":83.7,"y":2},{"g":"B","s":"0","x":84.0,"y":1.5},{"g":"B","s":"0","x":84.2,"y":3},{"g":"B","s":"0","x":84.5,"y":2.5},{"g":"B","s":"0","x":84.75,"y":4},{"g":"B","s":"0","x":84.95,"y":2.5},{"g":"B","s":"0","x":86.4,"y":1},{"g":"B","s":"0","x":86.8,"y":2},{"g":"B","s":"0","x":87.2,"y":3},{"g":"B","s":"0","x":87.5,"y":3.5},{"g":"B","s":"0","x":87.9,"y":2},{"g":"B","s":"0","x":88.2,"y":7.5},{"g":"B","s":"0","x":88.45,"y":2},{"g":"B","s":"0","x":89.0,"y":1.5},{"g":"B","s":"0","x":89.3,"y":4},{"g":"B","s":"0","x":89.42,"y":1},
    {"g":"B","s":"0","x":86.42,"k":"tri"},

    {"g":"G","s":">16","x":83.1,"y":8.4},{"g":"G","s":">16","x":83.26,"y":8.4},{"g":"G","s":">16","x":83.56,"y":1},{"g":"G","s":">16","x":83.69,"y":5.6},{"g":"G","s":">16","x":84.04,"y":7},{"g":"G","s":">16","x":84.26,"y":4.6},{"g":"G","s":">16","x":84.43,"y":1.4},{"g":"G","s":">16","x":84.69,"y":4.6},{"g":"G","s":">16","x":84.95,"y":1},{"g":"G","s":">16","x":86.4,"y":3.7},{"g":"G","s":">16","x":86.64,"y":4.6},{"g":"G","s":">16","x":86.98,"y":7},{"g":"G","s":">16","x":87.42,"y":8.4},{"g":"G","s":">16","x":87.85,"y":13},{"g":"G","s":">16","x":88.19,"y":21},{"g":"G","s":">16","x":88.45,"y":4.6},{"g":"G","s":">16","x":88.97,"y":3.3},{"g":"G","s":">16","x":89.42,"y":2.3},
    {"g":"G","s":"15","x":83.1,"y":10.7},{"g":"G","s":"15","x":83.22,"y":17.2},{"g":"G","s":"15","x":83.35,"y":9.3},{"g":"G","s":"15","x":83.69,"y":13},{"g":"G","s":"15","x":84.04,"y":14.9},{"g":"G","s":"15","x":84.21,"y":9.3},{"g":"G","s":"15","x":84.34,"y":11.6},{"g":"G","s":"15","x":84.47,"y":7},{"g":"G","s":"15","x":84.95,"y":4.2},{"g":"G","s":"15","x":86.4,"y":7},{"g":"G","s":"15","x":86.55,"y":3.3},{"g":"G","s":"15","x":87.07,"y":10.2},{"g":"G","s":"15","x":87.59,"y":9.3},{"g":"G","s":"15","x":87.94,"y":18.6},{"g":"G","s":"15","x":88.19,"y":17.7},{"g":"G","s":"15","x":88.63,"y":3.3},{"g":"G","s":"15","x":89.42,"y":5.6},
    {"g":"G","s":"14","x":83.1,"y":9.3},{"g":"G","s":"14","x":83.22,"y":14},{"g":"G","s":"14","x":83.35,"y":10.2},{"g":"G","s":"14","x":83.52,"y":19.5},{"g":"G","s":"14","x":83.69,"y":13},{"g":"G","s":"14","x":84.04,"y":21},{"g":"G","s":"14","x":84.26,"y":8.4},{"g":"G","s":"14","x":84.65,"y":5.6},{"g":"G","s":"14","x":84.77,"y":3.3},{"g":"G","s":"14","x":84.95,"y":3.7},{"g":"G","s":"14","x":86.4,"y":4.6},{"g":"G","s":"14","x":86.64,"y":3.7},{"g":"G","s":"14","x":87.16,"y":7},{"g":"G","s":"14","x":87.42,"y":8.4},{"g":"G","s":"14","x":87.63,"y":11.6},{"g":"G","s":"14","x":87.94,"y":22.3},{"g":"G","s":"14","x":88.19,"y":16.3},{"g":"G","s":"14","x":88.63,"y":3.3},{"g":"G","s":"14","x":89.23,"y":2.3},{"g":"G","s":"14","x":89.42,"y":5.6},
    {"g":"G","s":"13","x":83.1,"y":4.6},{"g":"G","s":"13","x":83.17,"y":7},{"g":"G","s":"13","x":83.35,"y":11.6},{"g":"G","s":"13","x":83.61,"y":6},{"g":"G","s":"13","x":84.0,"y":9.3},{"g":"G","s":"13","x":84.26,"y":3.3},{"g":"G","s":"13","x":84.65,"y":3.7},{"g":"G","s":"13","x":84.77,"y":6},{"g":"G","s":"13","x":84.95,"y":3.7},{"g":"G","s":"13","x":86.4,"y":4.6},{"g":"G","s":"13","x":86.81,"y":2.3},{"g":"G","s":"13","x":87.16,"y":7},{"g":"G","s":"13","x":87.37,"y":6},{"g":"G","s":"13","x":87.63,"y":18.6},{"g":"G","s":"13","x":87.89,"y":12.6},{"g":"G","s":"13","x":88.19,"y":22.3},{"g":"G","s":"13","x":88.45,"y":7},{"g":"G","s":"13","x":88.97,"y":3.3},{"g":"G","s":"13","x":89.28,"y":2.3},{"g":"G","s":"13","x":89.42,"y":5.6},
    {"g":"G","s":"12","x":83.1,"y":8},{"g":"G","s":"12","x":83.3,"y":9.3},{"g":"G","s":"12","x":83.48,"y":4.6},{"g":"G","s":"12","x":83.69,"y":8},{"g":"G","s":"12","x":84.04,"y":6},{"g":"G","s":"12","x":84.34,"y":3.7},{"g":"G","s":"12","x":84.47,"y":6},{"g":"G","s":"12","x":84.65,"y":2.3},{"g":"G","s":"12","x":84.95,"y":1},{"g":"G","s":"12","x":86.4,"y":8},{"g":"G","s":"12","x":86.55,"y":2.3},{"g":"G","s":"12","x":87.16,"y":13},{"g":"G","s":"12","x":87.42,"y":9.3},{"g":"G","s":"12","x":87.94,"y":19.5},{"g":"G","s":"12","x":88.19,"y":28.8},{"g":"G","s":"12","x":88.45,"y":7},{"g":"G","s":"12","x":88.97,"y":4.6},{"g":"G","s":"12","x":89.42,"y":4.6},
    {"g":"G","s":"11","x":83.1,"y":4.6},{"g":"G","s":"11","x":83.26,"y":7},{"g":"G","s":"11","x":83.52,"y":2.3},{"g":"G","s":"11","x":83.69,"y":8},{"g":"G","s":"11","x":84.04,"y":10.2},{"g":"G","s":"11","x":84.3,"y":5.6},{"g":"G","s":"11","x":84.65,"y":2.3},{"g":"G","s":"11","x":84.95,"y":3.3},{"g":"G","s":"11","x":86.4,"y":3.3},{"g":"G","s":"11","x":86.81,"y":1.4},{"g":"G","s":"11","x":87.07,"y":9.3},{"g":"G","s":"11","x":87.33,"y":14},{"g":"G","s":"11","x":87.59,"y":9.3},{"g":"G","s":"11","x":87.89,"y":16.3},{"g":"G","s":"11","x":88.19,"y":23},{"g":"G","s":"11","x":88.37,"y":6},{"g":"G","s":"11","x":89.15,"y":1.4},{"g":"G","s":"11","x":89.42,"y":8},
    {"g":"G","s":"10","x":83.1,"y":4.6},{"g":"G","s":"10","x":83.3,"y":6},{"g":"G","s":"10","x":83.61,"y":5.6},{"g":"G","s":"10","x":84.04,"y":8},{"g":"G","s":"10","x":84.47,"y":3.7},{"g":"G","s":"10","x":84.95,"y":4.6},{"g":"G","s":"10","x":86.4,"y":6},{"g":"G","s":"10","x":86.64,"y":2.3},{"g":"G","s":"10","x":87.11,"y":10.7},{"g":"G","s":"10","x":87.42,"y":3.7},{"g":"G","s":"10","x":87.68,"y":9.3},{"g":"G","s":"10","x":87.94,"y":8},{"g":"G","s":"10","x":88.19,"y":10.7},{"g":"G","s":"10","x":88.54,"y":4.6},{"g":"G","s":"10","x":89.23,"y":2.3},{"g":"G","s":"10","x":89.42,"y":4.6},
    {"g":"G","s":"9","x":83.1,"y":9.3},{"g":"G","s":"9","x":83.35,"y":5.6},{"g":"G","s":"9","x":83.69,"y":5.6},{"g":"G","s":"9","x":84.0,"y":12.6},{"g":"G","s":"9","x":84.21,"y":4.6},{"g":"G","s":"9","x":84.65,"y":3.3},{"g":"G","s":"9","x":84.95,"y":2.3},{"g":"G","s":"9","x":86.4,"y":13},{"g":"G","s":"9","x":86.55,"y":7},{"g":"G","s":"9","x":87.07,"y":6},{"g":"G","s":"9","x":87.59,"y":10.2},{"g":"G","s":"9","x":88.19,"y":11.6},{"g":"G","s":"9","x":88.45,"y":4.6},{"g":"G","s":"9","x":89.23,"y":2.3},{"g":"G","s":"9","x":89.42,"y":5.6},
    {"g":"G","s":"8","x":83.1,"y":8.4},{"g":"G","s":"8","x":83.22,"y":3.7},{"g":"G","s":"8","x":83.61,"y":2.8},{"g":"G","s":"8","x":83.95,"y":4.6},{"g":"G","s":"8","x":84.3,"y":1.4},{"g":"G","s":"8","x":84.69,"y":6},{"g":"G","s":"8","x":84.95,"y":3.7},{"g":"G","s":"8","x":86.4,"y":1.4},{"g":"G","s":"8","x":87.07,"y":3.7},{"g":"G","s":"8","x":87.42,"y":6},{"g":"G","s":"8","x":87.98,"y":21.4},{"g":"G","s":"8","x":88.28,"y":15.3},{"g":"G","s":"8","x":88.63,"y":1.4},{"g":"G","s":"8","x":89.42,"y":1.4},
    {"g":"G","s":"7","x":83.1,"y":3.7},{"g":"G","s":"7","x":83.43,"y":1.4},{"g":"G","s":"7","x":84.0,"y":5},{"g":"G","s":"7","x":84.3,"y":2.3},{"g":"G","s":"7","x":84.69,"y":3.7},{"g":"G","s":"7","x":84.95,"y":2.3},{"g":"G","s":"7","x":86.4,"y":1.4},{"g":"G","s":"7","x":87.42,"y":2.3},{"g":"G","s":"7","x":88.19,"y":7},{"g":"G","s":"7","x":88.63,"y":1.4},{"g":"G","s":"7","x":89.42,"y":1.4},
    {"g":"G","s":"6","x":83.1,"y":3.7},{"g":"G","s":"6","x":83.3,"y":1.4},{"g":"G","s":"6","x":83.69,"y":3.7},{"g":"G","s":"6","x":84.3,"y":2.3},{"g":"G","s":"6","x":84.95,"y":2.8},{"g":"G","s":"6","x":86.4,"y":1.9},{"g":"G","s":"6","x":87.42,"y":2.8},{"g":"G","s":"6","x":88.19,"y":6},{"g":"G","s":"6","x":88.63,"y":1.4},{"g":"G","s":"6","x":89.42,"y":1.4},
    {"g":"G","s":"5","x":83.1,"y":3.7},{"g":"G","s":"5","x":83.69,"y":3.3},{"g":"G","s":"5","x":84.47,"y":4.6},{"g":"G","s":"5","x":84.95,"y":1.4},{"g":"G","s":"5","x":86.4,"y":1},{"g":"G","s":"5","x":87.42,"y":1},{"g":"G","s":"5","x":88.19,"y":4.6},{"g":"G","s":"5","x":88.63,"y":1},{"g":"G","s":"5","x":89.42,"y":1},
    {"g":"G","s":"4","x":83.1,"y":10.7},{"g":"G","s":"4","x":83.3,"y":14},{"g":"G","s":"4","x":83.61,"y":9.3},{"g":"G","s":"4","x":84.04,"y":8},{"g":"G","s":"4","x":84.3,"y":5.6},{"g":"G","s":"4","x":84.47,"y":8.4},{"g":"G","s":"4","x":84.73,"y":8},{"g":"G","s":"4","x":84.95,"y":3.3},{"g":"G","s":"4","x":86.4,"y":1.9},{"g":"G","s":"4","x":87.24,"y":3.3},{"g":"G","s":"4","x":87.94,"y":7},{"g":"G","s":"4","x":88.45,"y":2.3},{"g":"G","s":"4","x":89.42,"y":3.3},
    {"g":"G","s":"3","x":83.1,"y":8.4},{"g":"G","s":"3","x":83.26,"y":14},{"g":"G","s":"3","x":83.61,"y":4.6},{"g":"G","s":"3","x":83.78,"y":8.4},{"g":"G","s":"3","x":84.04,"y":4.6},{"g":"G","s":"3","x":84.21,"y":9.3},{"g":"G","s":"3","x":84.56,"y":9.3},{"g":"G","s":"3","x":84.95,"y":9.3},{"g":"G","s":"3","x":86.4,"y":2.8},{"g":"G","s":"3","x":86.64,"y":3.7},{"g":"G","s":"3","x":87.16,"y":12},{"g":"G","s":"3","x":87.59,"y":9.3},{"g":"G","s":"3","x":88.19,"y":10.7},{"g":"G","s":"3","x":88.63,"y":1.4},{"g":"G","s":"3","x":89.42,"y":4.6},
    {"g":"G","s":"2","x":83.1,"y":10.7},{"g":"G","s":"2","x":83.26,"y":21},{"g":"G","s":"2","x":83.43,"y":13},{"g":"G","s":"2","x":83.95,"y":11.6},{"g":"G","s":"2","x":84.21,"y":14.4},{"g":"G","s":"2","x":84.3,"y":20},{"g":"G","s":"2","x":84.39,"y":13},{"g":"G","s":"2","x":84.47,"y":20},{"g":"G","s":"2","x":84.65,"y":14.4},{"g":"G","s":"2","x":84.95,"y":20},{"g":"G","s":"2","x":86.4,"y":6},{"g":"G","s":"2","x":86.64,"y":6},{"g":"G","s":"2","x":86.9,"y":15.3},{"g":"G","s":"2","x":87.42,"y":11.6},{"g":"G","s":"2","x":88.02,"y":18.6},{"g":"G","s":"2","x":88.28,"y":15.3},{"g":"G","s":"2","x":88.63,"y":6},{"g":"G","s":"2","x":89.42,"y":10.7},
    {"g":"G","s":"1","x":83.1,"y":14},{"g":"G","s":"1","x":83.22,"y":8.4},{"g":"G","s":"1","x":83.43,"y":13},{"g":"G","s":"1","x":83.69,"y":9.3},{"g":"G","s":"1","x":84.0,"y":15.3},{"g":"G","s":"1","x":84.3,"y":10.7},{"g":"G","s":"1","x":84.47,"y":15.3},{"g":"G","s":"1","x":84.69,"y":17.7},{"g":"G","s":"1","x":84.95,"y":15.3},{"g":"G","s":"1","x":86.4,"y":3},{"g":"G","s":"1","x":86.9,"y":8.4},{"g":"G","s":"1","x":87.16,"y":5},{"g":"G","s":"1","x":87.42,"y":8.4},{"g":"G","s":"1","x":87.94,"y":7},{"g":"G","s":"1","x":88.63,"y":7.4},{"g":"G","s":"1","x":88.97,"y":14},{"g":"G","s":"1","x":89.42,"y":27},
    {"g":"G","s":"0","x":83.1,"y":7},{"g":"G","s":"0","x":83.17,"y":11.6},{"g":"G","s":"0","x":83.43,"y":8},{"g":"G","s":"0","x":83.69,"y":11.6},{"g":"G","s":"0","x":83.95,"y":9.3},{"g":"G","s":"0","x":84.21,"y":13},{"g":"G","s":"0","x":84.43,"y":9.3},{"g":"G","s":"0","x":84.56,"y":15},{"g":"G","s":"0","x":84.82,"y":9.3},{"g":"G","s":"0","x":84.95,"y":9.3},{"g":"G","s":"0","x":86.4,"y":1.4},{"g":"G","s":"0","x":86.64,"y":4.6},{"g":"G","s":"0","x":86.98,"y":3.3},{"g":"G","s":"0","x":87.42,"y":4.6},{"g":"G","s":"0","x":87.94,"y":9.3},{"g":"G","s":"0","x":88.28,"y":7},{"g":"G","s":"0","x":88.63,"y":2.3},{"g":"G","s":"0","x":89.15,"y":3.3},{"g":"G","s":"0","x":89.36,"y":10.2},{"g":"G","s":"0","x":89.42,"y":9},
    {"g":"G","s":"0","x":86.42,"k":"tri"}
  ]},
  "facet": {
    "row": {"field": "s", "type": "ordinal", "sort": [">16","15","14","13","12","11","10","9","8","7","6","5","4","3","2","1","0"], "header": {"title": null, "labels": false}},
    "column": {"field": "g", "type": "nominal", "sort": ["A","C","B","G"], "header": {"title": null, "labelExpr": "datum.value == 'A' ? 'All Corallines' : datum.value == 'C' ? 'Crustose Corallines' : datum.value == 'B' ? 'Branching Corallines' : 'Calcareous Greens'", "labelFontSize": 19, "labelColor": "black", "labelFont": "Liberation Sans", "labelAnchor": "start", "labelAlign": "left", "labelPadding": 12}}
  },
  "spacing": {"row": 0.4, "column": 56},
  "bounds": "flush",
  "spec": {
    "width": 269,
    "height": 51,
    "layer": [
      {
        "transform": [{"filter": "!datum.k"}],
        "mark": {"type": "area", "fill": "black", "stroke": "black", "strokeWidth": 2},
        "encoding": {
          "x": {"field": "x", "type": "quantitative", "scale": {"domain": [83, 90], "nice": false, "zero": false}},
          "y": {"field": "y", "type": "quantitative", "scale": {"domain": [0, 71.2], "nice": false}, "axis": null}
        }
      },
      {
        "transform": [{"filter": "!datum.k && (datum.x == 84.95 || datum.x == 86.4)"}],
        "mark": {"type": "area", "fill": "white", "stroke": "black", "strokeWidth": 2},
        "encoding": {
          "x": {"field": "x", "type": "quantitative"},
          "y": {"field": "y", "type": "quantitative", "axis": null}
        }
      },
      {
        "transform": [{"filter": "datum.k == 'tri'"}],
        "mark": {"type": "point", "shape": "triangle-up", "filled": true, "fill": "black", "opacity": 1, "size": 80},
        "encoding": {
          "x": {"field": "x", "type": "quantitative"},
          "y": {"datum": -10, "type": "quantitative", "axis": null}
        }
      },
      {
        "transform": [{"filter": "datum.k == 'lab'"}],
        "mark": {"type": "text", "align": "center", "baseline": "alphabetic", "dx": -31, "fontSize": 21, "fontWeight": "bold", "color": "black"},
        "encoding": {
          "x": {"datum": 83, "type": "quantitative"},
          "y": {"datum": 0, "type": "quantitative", "axis": null},
          "text": {"field": "s"}
        }
      },
      {
        "transform": [{"filter": "datum.k == 'ax' && datum.y == 0"}],
        "mark": {"type": "rule", "color": "black", "strokeWidth": 1.5},
        "encoding": {
          "x": {"datum": 90, "type": "quantitative"},
          "y": {"datum": 0, "type": "quantitative", "axis": null},
          "y2": {"datum": 60}
        }
      },
      {
        "transform": [{"filter": "datum.k == 'ax'"}],
        "mark": {"type": "rule", "color": "black", "strokeWidth": 1.5},
        "encoding": {
          "x": {"datum": 90, "type": "quantitative"},
          "x2": {"datum": 90.13},
          "y": {"field": "y", "type": "quantitative", "axis": null}
        }
      },
      {
        "transform": [{"filter": "datum.k == 'ax'"}],
        "mark": {"type": "text", "align": "left", "baseline": "middle", "dx": 7, "fontSize": 13, "fontWeight": "bold", "color": "black"},
        "encoding": {
          "x": {"datum": 90, "type": "quantitative"},
          "y": {"field": "y", "type": "quantitative", "axis": null},
          "text": {"field": "lab"}
        }
      }
    ]
  }
}
